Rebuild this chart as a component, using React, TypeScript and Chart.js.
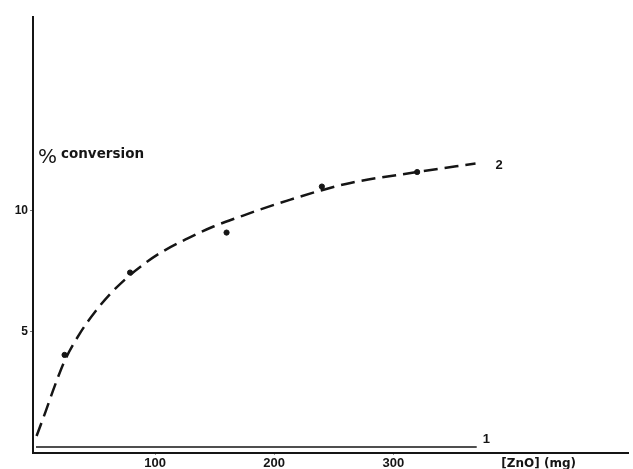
import React, { useEffect, useRef } from "react";
import { Chart, registerables } from "chart.js";

Chart.register(...registerables);

const xTickValues = [100, 200, 300];
const yTickValues = [5, 10];
const curve2X = [0.5, 8, 16, 24, 37, 50, 62, 79, 92, 104, 127, 149, 171, 188, 213, 240, 264, 320, 369];
const curve2Y = [0.7, 1.7, 2.8, 3.8, 4.95, 5.85, 6.55, 7.35, 7.85, 8.25, 8.85, 9.35, 9.75, 10.05, 10.45, 10.85, 11.15, 11.6, 11.95];
const dotsX = [24, 79, 160, 240, 320];
const dotsY = [4.05, 7.45, 9.1, 11.0, 11.6];
const line1X = [0, 370];
const line1Y = [0.25, 0.25];
const xTitle = "[ZnO] (mg)";
const yTitle = "conversion";

const INK = "#151515";

const labelsPlugin = {
  id: "labels",
  afterDraw(chart: any) {
    const ctx = chart.ctx;
    const xs = chart.scales.x;
    const ys = chart.scales.y;
    ctx.save();
    ctx.fillStyle = INK;
    ctx.textBaseline = "middle";
    ctx.font = "bold 13px 'Liberation Sans', Arial, sans-serif";
    ctx.textAlign = "left";
    const e2x = xs.getPixelForValue(curve2X[curve2X.length - 1]);
    const e2y = ys.getPixelForValue(curve2Y[curve2Y.length - 1]);
    ctx.fillText("2", e2x + 20, e2y + 2);
    const e1x = xs.getPixelForValue(line1X[line1X.length - 1]);
    const e1y = ys.getPixelForValue(line1Y[line1Y.length - 1]);
    ctx.fillText("1", e1x + 6, e1y - 8);
    const tx = xs.getPixelForValue(0) + 2;
    const ty = ys.getPixelForValue(12.2);
    ctx.font = "20px 'DejaVu Sans', sans-serif";
    ctx.fillText("%", tx, ty);
    ctx.font = "bold 13.5px 'DejaVu Sans', sans-serif";
    ctx.fillText(yTitle, tx + 23, ty - 3);
    ctx.font = "bold 12px 'DejaVu Sans', sans-serif";
    ctx.textAlign = "center";
    ctx.fillText(xTitle, xs.getPixelForValue(422), chart.chartArea.bottom + 11);
    ctx.restore();
  },
};

export default function App() {
  const ref = useRef<HTMLCanvasElement | null>(null);
  useEffect(() => {
    if (!ref.current) return;
    const chart = new Chart(ref.current, {
      type: "scatter",
      data: {
        datasets: [
          {
            label: "2",
            data: curve2X.map((x, i) => ({ x, y: curve2Y[i] })),
            showLine: true,
            borderColor: INK,
            borderWidth: 2.5,
            borderDash: [14, 7],
            pointRadius: 0,
            cubicInterpolationMode: "monotone",
          },
          {
            label: "points",
            data: dotsX.map((x, i) => ({ x, y: dotsY[i] })),
            showLine: false,
            backgroundColor: INK,
            borderColor: INK,
            pointRadius: 2.6,
          },
          {
            label: "1",
            data: line1X.map((x, i) => ({ x, y: line1Y[i] })),
            showLine: true,
            borderColor: INK,
            borderWidth: 1.5,
            pointRadius: 0,
          },
        ],
      },
      options: {
        responsive: false,
        animation: false,
        layout: { padding: { top: 17, right: 0, left: 0, bottom: 0 } },
        plugins: { legend: { display: false }, tooltip: { enabled: false } },
        scales: {
          x: {
            type: "linear",
            min: -2.5,
            max: 497,
            afterBuildTicks: (s: any) => {
              s.ticks = xTickValues.map((v) => ({ value: v }));
            },
            afterFit: (s: any) => {
              s.height = 16;
            },
            border: { display: true, color: INK, width: 2 },
            grid: { display: true, drawOnChartArea: false, drawTicks: true, tickLength: 2, color: "#999" },
            ticks: {
              color: INK,
              padding: 1,
              maxRotation: 0,
              font: { family: "'Liberation Sans', Arial, sans-serif", size: 13, weight: "bold" },
            },
          },
          y: {
            type: "linear",
            min: 0,
            max: 18,
            afterBuildTicks: (s: any) => {
              s.ticks = yTickValues.map((v) => ({ value: v }));
            },
            afterFit: (s: any) => {
              s.width = 33;
            },
            border: { display: true, color: INK, width: 2 },
            grid: { display: true, drawOnChartArea: false, drawTicks: true, tickLength: 3, color: "#777" },
            ticks: {
              color: INK,
              padding: 2,
              font: { family: "'Liberation Sans', Arial, sans-serif", size: 12, weight: "bold" },
            },
          },
        },
      },
      plugins: [labelsPlugin],
    } as any);
    return () => chart.destroy();
  }, []);
  return (
    <div style={{ position: "fixed", left: 0, top: 0, width: 633, height: 469, background: "#fff" }}>
      <canvas ref={ref} width={633} height={469} style={{ display: "block" }} />
    </div>
  );
}
